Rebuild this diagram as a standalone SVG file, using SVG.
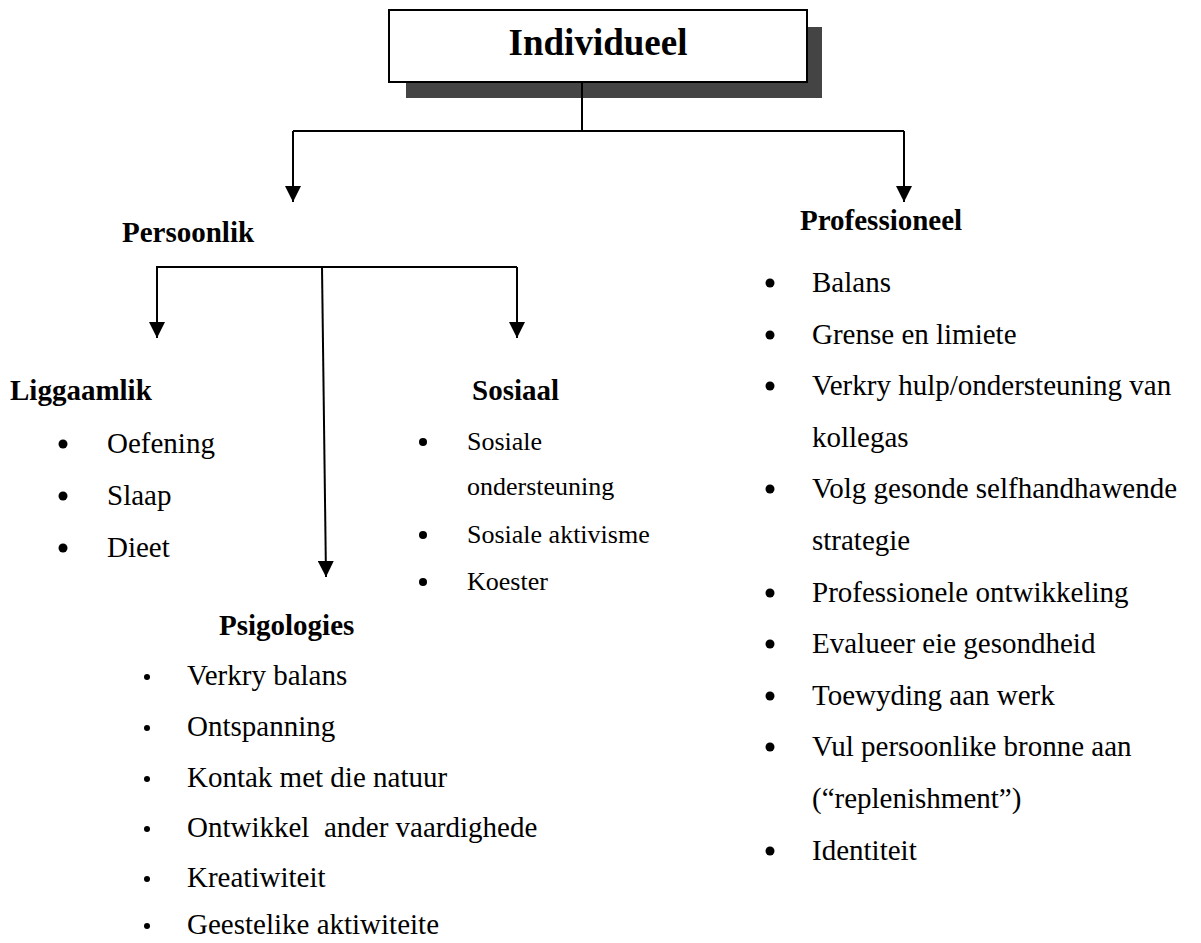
<svg xmlns="http://www.w3.org/2000/svg" width="1201" height="943" viewBox="0 0 1201 943">
<style>
text{font-family:"Liberation Serif","Tinos","Times New Roman","DejaVu Serif",serif;fill:#000}
.h{font-weight:bold;font-size:29px}
.t{font-size:29px}
.s{font-size:26px}
.ln{stroke:#000;stroke-width:2;fill:none}
.b{fill:#000}
</style>
<defs>
<marker id="ah" markerWidth="16" markerHeight="16" viewBox="0 0 16 16" refX="16" refY="8" orient="auto" markerUnits="userSpaceOnUse">
<path d="M0,0 L16,8 L0,16 Z" fill="#000"/>
</marker>
</defs>
<rect width="1201" height="943" fill="#fff"/>
<g id="individueel">
<rect x="406" y="27" width="416" height="71" fill="#444"/>
<rect x="389" y="10" width="418" height="72" fill="#fff" stroke="#000" stroke-width="2"/>
<text x="598" y="55" text-anchor="middle" font-family="Liberation Serif, serif" style="font-weight:bold;font-size:37px">Individueel</text>
</g>
<g id="connectors">
<path class="ln" d="M582,82 V131"/>
<path class="ln" d="M293,131 H904"/>
<path class="ln" d="M293,131 V202" marker-end="url(#ah)"/>
<path class="ln" d="M904,131 V202" marker-end="url(#ah)"/>
<path class="ln" d="M156,267 H517"/>
<path class="ln" d="M157,267 V338" marker-end="url(#ah)"/>
<path class="ln" d="M517,267 V338" marker-end="url(#ah)"/>
<path class="ln" d="M322,267 L326,577" marker-end="url(#ah)"/>
</g>
<g id="persoonlik" font-family="Liberation Serif, serif">
<text class="h" x="122" y="242">Persoonlik</text>
</g>
<g id="liggaamlik" font-family="Liberation Serif, serif">
<text class="h" x="10" y="400">Liggaamlik</text>
<circle class="b" cx="63" cy="444" r="4.5"/>
<text class="t" x="107" y="453">Oefening</text>
<circle class="b" cx="63" cy="496" r="4.5"/>
<text class="t" x="107" y="505">Slaap</text>
<circle class="b" cx="63" cy="548" r="4.5"/>
<text class="t" x="107" y="557">Dieet</text>
</g>
<g id="sosiaal" font-family="Liberation Serif, serif">
<text class="h" x="472" y="400">Sosiaal</text>
<circle class="b" cx="423" cy="442" r="4"/>
<text class="s" x="467" y="450">Sosiale</text>
<text class="s" x="467" y="495">ondersteuning</text>
<circle class="b" cx="423" cy="535" r="4"/>
<text class="s" x="467" y="543">Sosiale aktivisme</text>
<circle class="b" cx="423" cy="582" r="4"/>
<text class="s" x="467" y="590">Koester</text>
</g>
<g id="psigologies" font-family="Liberation Serif, serif">
<text class="h" x="219" y="635">Psigologies</text>
<circle class="b" cx="147" cy="677" r="3"/>
<text class="t" x="187" y="685">Verkry balans</text>
<circle class="b" cx="147" cy="728" r="3"/>
<text class="t" x="187" y="736">Ontspanning</text>
<circle class="b" cx="147" cy="779" r="3"/>
<text class="t" x="187" y="787">Kontak met die natuur</text>
<circle class="b" cx="147" cy="829" r="3"/>
<text class="t" x="187" y="837" xml:space="preserve">Ontwikkel  ander vaardighede</text>
<circle class="b" cx="147" cy="879" r="3"/>
<text class="t" x="187" y="887">Kreatiwiteit</text>
<circle class="b" cx="147" cy="926" r="3"/>
<text class="t" x="187" y="934">Geestelike aktiwiteite</text>
</g>
<g id="professioneel" font-family="Liberation Serif, serif">
<text class="h" x="800" y="230">Professioneel</text>
<circle class="b" cx="770" cy="283" r="4.5"/>
<text class="t" x="812" y="292">Balans</text>
<circle class="b" cx="770" cy="335" r="4.5"/>
<text class="t" x="812" y="344">Grense en limiete</text>
<circle class="b" cx="770" cy="386" r="4.5"/>
<text class="t" x="812" y="395">Verkry hulp/ondersteuning van</text>
<text class="t" x="812" y="447">kollegas</text>
<circle class="b" cx="770" cy="489" r="4.5"/>
<text class="t" x="812" y="498">Volg gesonde selfhandhawende</text>
<text class="t" x="812" y="550">strategie</text>
<circle class="b" cx="770" cy="593" r="4.5"/>
<text class="t" x="812" y="602">Professionele ontwikkeling</text>
<circle class="b" cx="770" cy="644" r="4.5"/>
<text class="t" x="812" y="653">Evalueer eie gesondheid</text>
<circle class="b" cx="770" cy="696" r="4.5"/>
<text class="t" x="812" y="705">Toewyding aan werk</text>
<circle class="b" cx="770" cy="747" r="4.5"/>
<text class="t" x="812" y="756">Vul persoonlike bronne aan</text>
<text class="t" x="812" y="808">(“replenishment”)</text>
<circle class="b" cx="770" cy="851" r="4.5"/>
<text class="t" x="812" y="860">Identiteit</text>
</g>
</svg>
